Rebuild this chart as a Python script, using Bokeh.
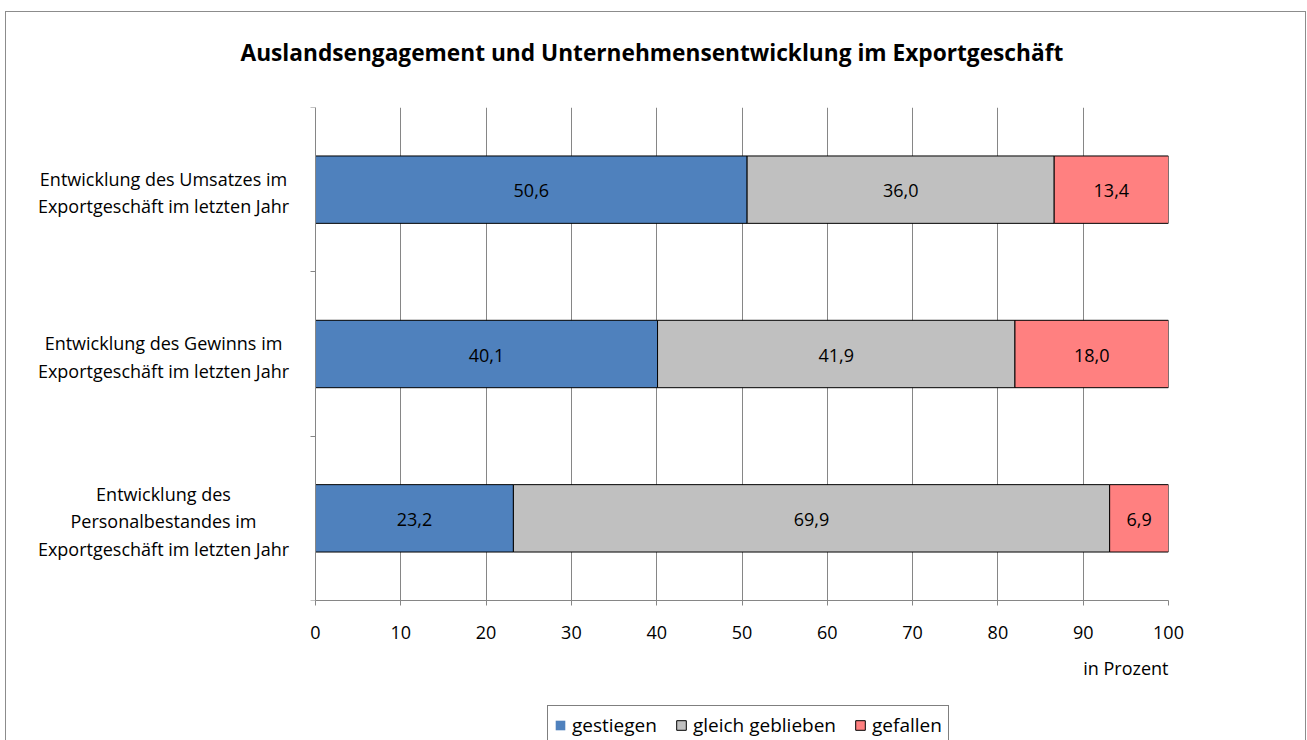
from bokeh.plotting import figure
from bokeh.layouts import column
from bokeh.models import (ColumnDataSource, FixedTicker, Legend, LegendItem, Title, Range1d)
from bokeh.core.properties import value
from bokeh.embed import file_html
from bokeh.resources import INLINE

title_text = "Auslandsengagement und Unternehmensentwicklung im Exportgeschäft"
categories = [
    "Entwicklung des Umsatzes im\nExportgeschäft im letzten Jahr",
    "Entwicklung des Gewinns im\nExportgeschäft im letzten Jahr",
    "Entwicklung des\nPersonalbestandes im\nExportgeschäft im letzten Jahr",
]
series_names = ["gestiegen", "gleich geblieben", "gefallen"]
gestiegen = [50.6, 40.1, 23.2]
gleich_geblieben = [36.0, 41.9, 69.9]
gefallen = [13.4, 18.0, 6.9]
series_colors = ["#4F81BD", "#C0C0C0", "#FF8080"]
legend_line_colors = [None, "black", "black"]
x_ticks = [0, 10, 20, 30, 40, 50, 60, 70, 80, 90, 100]
x_axis_label = "in Prozent"

FONT = "Open Sans"
GRID = "#868686"
BORDER = "1px solid #8c8c8c"

# layout constants (pixels)
FIG_W = 1301
CANVAS_LEFT = 6          # page x of canvas left edge
AXIS_X = 315             # page x of value 0
FRAME_RIGHT = 1168       # page x of value 100
LABEL_CENTER = 163       # page x of category label centers
TITLE_LEFT = 240         # page x of title start

px_per_unit = (FRAME_RIGHT - AXIS_X) / (x_ticks[-1] - x_ticks[0])
x_start = -(AXIS_X - CANVAS_LEFT) / px_per_unit
label_x = -(AXIS_X - LABEL_CENTER) / px_per_unit

n = len(categories)
ypos = [n - i - 0.5 for i in range(n)]

p = figure(width=FIG_W, height=688, output_backend="svg", toolbar_location=None,
           x_range=Range1d(x_start, x_ticks[-1]), y_range=Range1d(0, n), title=None,
           min_border_left=0, min_border_right=CANVAS_LEFT + FIG_W - FRAME_RIGHT,
           min_border_top=95, min_border_bottom=100)
p.styles = {"margin-left": "5px", "margin-top": "11px",
            "border-top": BORDER, "border-left": BORDER, "border-right": BORDER}
p.outline_line_color = None
p.background_fill_color = "white"
p.border_fill_color = "white"

# title (above): spacer nearest to frame, then main title
p.add_layout(Title(text=" ", text_font_size="10px", standoff=27), "above")
p.add_layout(Title(text=title_text, text_font=FONT, text_font_size="22.7px",
                   text_font_style="bold", text_color="black", align="left",
                   offset=TITLE_LEFT - CANVAS_LEFT, standoff=0), "above")

# stacked bars with value labels
series = [gestiegen, gleich_geblieben, gefallen]
sources = []
left = [0.0] * n
for name, vals, col in zip(series_names, series, series_colors):
    right = [l + v for l, v in zip(left, vals)]
    src = ColumnDataSource(dict(
        y=ypos, left=left, right=right,
        mid=[(l + r) / 2 for l, r in zip(left, right)],
        lbl=[f"{v:.1f}".replace(".", ",") for v in vals],
    ))
    sources.append(src)
    p.hbar(y="y", left="left", right="right", height=0.41, source=src,
           fill_color=col, line_color="black", line_width=1)
    p.text(x="mid", y="y", text="lbl", source=src, text_align="center",
           text_baseline="middle", y_offset=1, text_font=value(FONT),
           text_font_size="18px", text_color="black")
    left = right

# category labels (left of the value axis, inside the frame)
cat_src = ColumnDataSource(dict(x=[label_x] * n, y=ypos, text=categories))
p.text(x="x", y="y", text="text", source=cat_src, text_align="center",
       text_baseline="middle", y_offset=3, text_font=value(FONT),
       text_font_size="18px", text_color="black", text_line_height=1.14)

# x axis
xa = p.xaxis[0]
xa.ticker = FixedTicker(ticks=x_ticks)
xa.bounds = (x_ticks[0], x_ticks[-1])
xa.axis_line_color = GRID
xa.major_tick_line_color = GRID
xa.major_tick_out = 5
xa.major_tick_in = 0
xa.minor_tick_line_color = None
xa.major_label_text_font = FONT
xa.major_label_text_font_size = "18px"
xa.major_label_text_color = "black"
xa.major_label_standoff = 20

# y axis at value 0, ticks at category boundaries
ya = p.yaxis[0]
ya.fixed_location = 0
ya.ticker = FixedTicker(ticks=list(range(n + 1)))
ya.major_label_overrides = {t: "" for t in range(n + 1)}
ya.major_label_standoff = 0
ya.axis_line_color = GRID
ya.major_tick_line_color = GRID
ya.major_tick_out = 5
ya.major_tick_in = 0
ya.minor_tick_line_color = None

p.xgrid.ticker = FixedTicker(ticks=x_ticks)
p.xgrid.grid_line_color = GRID
p.ygrid.grid_line_color = None

# axis title below, right aligned
p.add_layout(Title(text=x_axis_label, text_font=FONT, text_font_size="18px",
                   text_font_style="normal", text_color="black", align="right",
                   offset=0, standoff=25), "below")

# legend strip (its bars lie outside its visible range; only the legend shows)
q = figure(width=FIG_W, height=41, output_backend="svg", toolbar_location=None,
           x_range=Range1d(0, x_ticks[-1]), y_range=Range1d(n + 1, n + 2), title=None,
           x_axis_location=None, y_axis_location=None, min_border=0)
q.styles = {"margin-left": "5px", "border-left": BORDER, "border-right": BORDER}
q.outline_line_color = None
q.grid.visible = False
q.border_fill_color = "white"
items = []
for nm, src, col, lc in zip(series_names, sources, series_colors, legend_line_colors):
    r = q.hbar(y="y", left="left", right="right", height=0.41, source=src,
               fill_color=col, line_color=lc, line_width=1)
    items.append(LegendItem(label=nm, renderers=[r]))
legend = Legend(items=items, orientation="horizontal",
                location=(547 - CANVAS_LEFT, 41 - 8 - 38),
                label_text_font=FONT, label_text_font_size="19px", label_text_color="black",
                glyph_width=12, glyph_height=12, label_standoff=6, spacing=18,
                padding=6, margin=0, border_line_color="black", border_line_width=1,
                background_fill_alpha=1)
q.add_layout(legend, "center")

open("out.html", "w").write(file_html(column(p, q), INLINE))
